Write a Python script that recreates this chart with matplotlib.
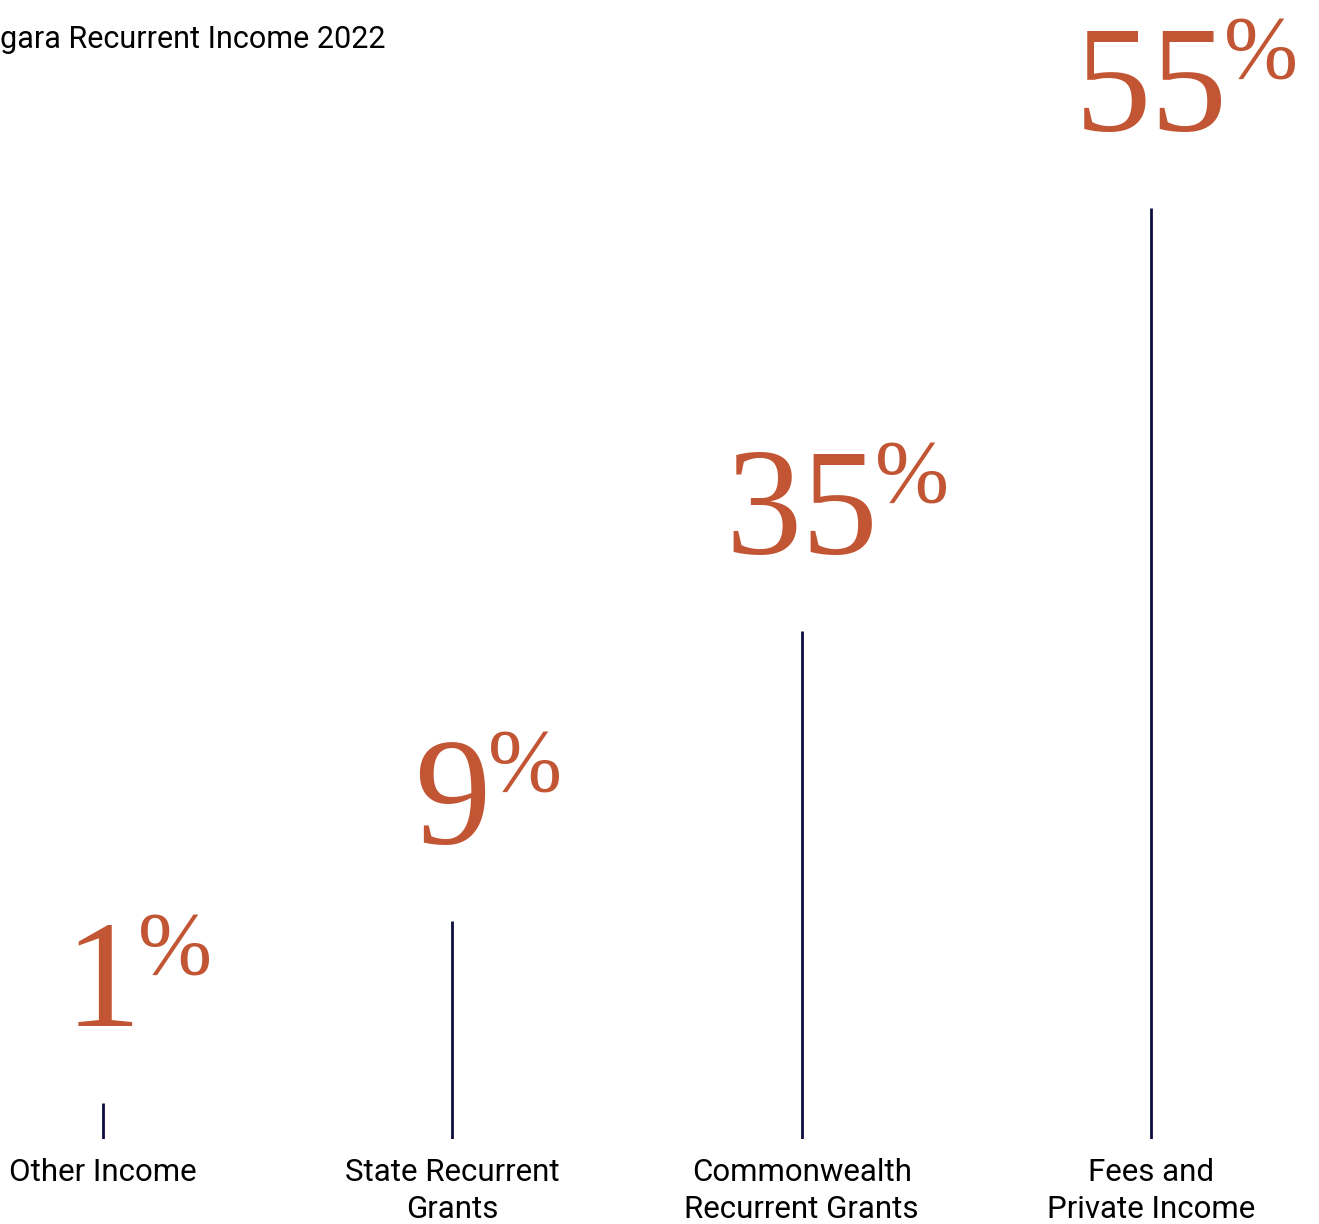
import matplotlib
matplotlib.use("Agg")
import matplotlib.pyplot as plt

# ---- data ----
categories = ["Other Income", "State Recurrent\nGrants",
              "Commonwealth\nRecurrent Grants", "Fees and\nPrivate Income"]
percent_labels = [1, 9, 35, 55]
line_heights = [2.1, 12.9, 30.0, 55.0]   # stem heights as drawn
title = "gara Recurrent Income 2022"

ORANGE = "#C25533"
NAVY = "#0E0D3F"
W, H, DPI = 1319, 1224, 100

fig = plt.figure(figsize=(W / DPI, H / DPI), dpi=DPI)
fig.patch.set_facecolor("white")

bottom_px, top_px = 1139, 208
x0_px, step_px = 103, 349.33
ax = fig.add_axes([0, (H - bottom_px) / H, 1, (bottom_px - top_px) / H])
ax.set_xlim(-x0_px / step_px, (W - x0_px) / step_px)
ax.set_ylim(0, max(line_heights))
ax.axis("off")

xs = list(range(len(categories)))
ax.vlines(xs, 0, line_heights, color=NAVY, linewidth=2)

for x, h, p, cat in zip(xs, line_heights, percent_labels, categories):
    num = ax.annotate(str(p), xy=(x, h), xytext=(0, 77 * 72 / DPI),
                      textcoords="offset points", ha="center", va="baseline",
                      fontsize=110, family="Liberation Serif", color=ORANGE,
                      annotation_clip=False)
    ax.annotate("%", xy=(1, h), xycoords=(num, "data"),
                xytext=(-3 * 72 / DPI, 131 * 72 / DPI), textcoords="offset points",
                ha="left", va="baseline", fontsize=64,
                family="Liberation Serif", color=ORANGE, annotation_clip=False)
    ax.annotate(cat, xy=(x, 0), xytext=(0, -(1158 - bottom_px) * 72 / DPI),
                textcoords="offset points", ha="center", va="top",
                fontsize=22.5, family="Roboto", color="black",
                linespacing=1.33, annotation_clip=False)

fig.text(0.0, 1 - 48 / H, title, ha="left", va="baseline",
         fontsize=22, family="Roboto", color="black")

fig.savefig("out.png", dpi=DPI, facecolor="white")
